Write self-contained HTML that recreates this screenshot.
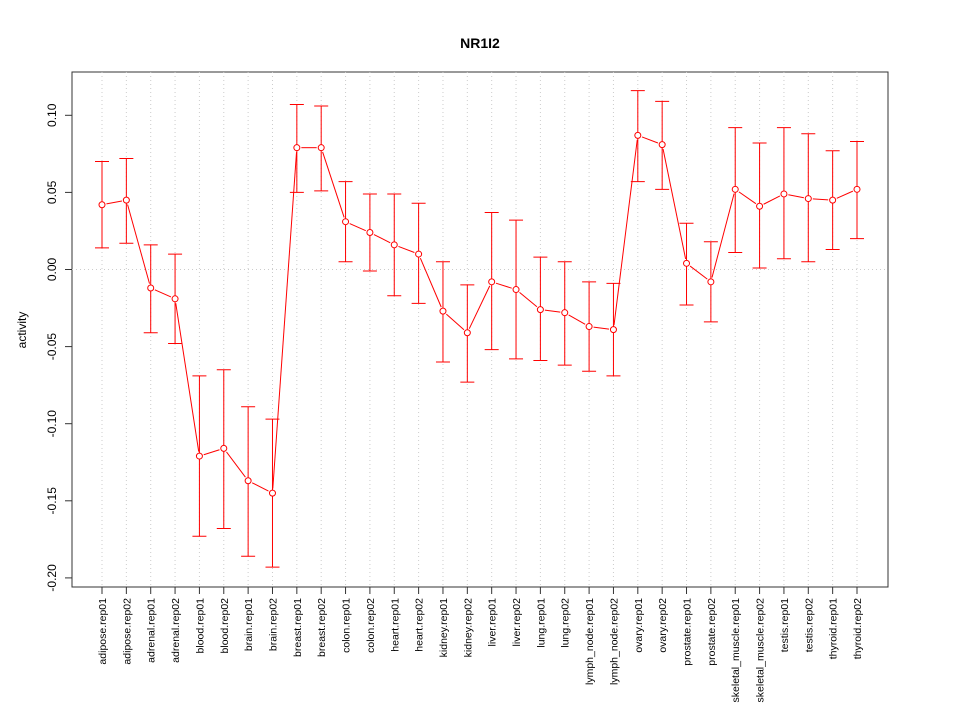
<!DOCTYPE html>
<html><head><meta charset="utf-8"><style>body{margin:0;background:#fff}svg{display:block}text{font-family:"Liberation Sans",sans-serif}</style></head>
<body>
<svg id="chart" width="960" height="720">
<text x="480" y="48" text-anchor="middle" font-size="14" font-weight="bold">NR1I2</text>
<rect x="72" y="72" width="816" height="515" fill="none" stroke="#333"/>
<text transform="translate(26,330) rotate(-90)" text-anchor="middle" font-size="12">activity</text>
<g id="grid"></g><g id="yaxis"></g><g id="xaxis"></g><g id="marks"></g>
</svg>
<script>
const categories=["adipose.rep01","adipose.rep02","adrenal.rep01","adrenal.rep02","blood.rep01","blood.rep02","brain.rep01","brain.rep02","breast.rep01","breast.rep02","colon.rep01","colon.rep02","heart.rep01","heart.rep02","kidney.rep01","kidney.rep02","liver.rep01","liver.rep02","lung.rep01","lung.rep02","lymph_node.rep01","lymph_node.rep02","ovary.rep01","ovary.rep02","prostate.rep01","prostate.rep02","skeletal_muscle.rep01","skeletal_muscle.rep02","testis.rep01","testis.rep02","thyroid.rep01","thyroid.rep02"];
const values=[0.042,0.045,-0.012,-0.019,-0.121,-0.116,-0.137,-0.145,0.079,0.079,0.031,0.024,0.016,0.010,-0.027,-0.041,-0.008,-0.013,-0.026,-0.028,-0.037,-0.039,0.087,0.081,0.004,-0.008,0.052,0.041,0.049,0.046,0.045,0.052];
const upper=[0.070,0.072,0.016,0.010,-0.069,-0.065,-0.089,-0.097,0.107,0.106,0.057,0.049,0.049,0.043,0.005,-0.010,0.037,0.032,0.008,0.005,-0.008,-0.009,0.116,0.109,0.030,0.018,0.092,0.082,0.092,0.088,0.077,0.083];
const lower=[0.014,0.017,-0.041,-0.048,-0.173,-0.168,-0.186,-0.193,0.050,0.051,0.005,-0.001,-0.017,-0.022,-0.060,-0.073,-0.052,-0.058,-0.059,-0.062,-0.066,-0.069,0.057,0.052,-0.023,-0.034,0.011,0.001,0.007,0.005,0.013,0.020];
const yTicks=[-0.20,-0.15,-0.10,-0.05,0.00,0.05,0.10];
const yTickLabels=["-0.20","-0.15","-0.10","-0.05","0.00","0.05","0.10"];
const NS="http://www.w3.org/2000/svg";
function xScale(i){return 102+i*(857-102)/(categories.length-1);}
function yScale(v){return 269.5-v*1542;}
function mk(tag,attrs,parent){const e=document.createElementNS(NS,tag);for(const k in attrs)e.setAttribute(k,attrs[k]);document.getElementById(parent).appendChild(e);return e;}
const grid="grid";
categories.forEach((c,i)=>{
 const g=mk("line",{x1:xScale(i),x2:xScale(i),y1:72,y2:587,stroke:"#ccc","stroke-dasharray":"1,3"},grid);
 
 
 const t=mk("line",{x1:xScale(i),x2:xScale(i),y1:587,y2:594,stroke:"#333"},"xaxis");
 
 
 const l=mk("text",{transform:`translate(${xScale(i)+4},598) rotate(-90)`,"text-anchor":"end","font-size":"10.5"},"xaxis");
 l.textContent=c;
 
 
});
const z=mk("line",{x1:72,x2:888,y1:yScale(0),y2:yScale(0),stroke:"#ccc","stroke-dasharray":"1,3"},grid);


yTicks.forEach((v,i)=>{
 const t=mk("line",{x1:65,x2:72,y1:yScale(v),y2:yScale(v),stroke:"#333"},"yaxis");
 
 
 const l=mk("text",{transform:`translate(56,${yScale(v)}) rotate(-90)`,"text-anchor":"middle","font-size":"12"},"yaxis");
 l.textContent=yTickLabels[i];
 
 
});
const red="#f00";
for(let i=0;i<values.length-1;i++){
 const x1=xScale(i),y1=yScale(values[i]),x2=xScale(i+1),y2=yScale(values[i+1]);
 const dx=x2-x1,dy=y2-y1,d=Math.hypot(dx,dy);
 if(d>8){const s=mk("line",{x1:x1+dx/d*4.5,y1:y1+dy/d*4.5,x2:x2-dx/d*4.5,y2:y2-dy/d*4.5,stroke:red},"marks");
 
 }
}
values.forEach((v,i)=>{
 const x=xScale(i);
 const e=mk("path",{d:`M${x},${yScale(upper[i])}V${yScale(lower[i])}M${x-7},${yScale(upper[i])}H${x+7}M${x-7},${yScale(lower[i])}H${x+7}`,stroke:red,fill:"none"},"marks");
 
 
 const c=mk("circle",{cx:x,cy:yScale(v),r:3,fill:"#fff",stroke:red},"marks");
 
 
});
</script>
</body></html>
